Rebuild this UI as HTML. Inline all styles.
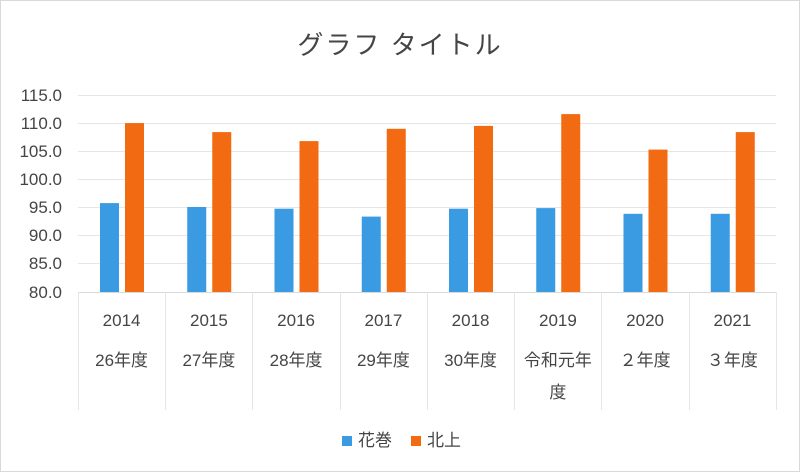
<!DOCTYPE html>
<html><head><meta charset="utf-8"><style>
body{margin:0;background:#fff}
svg{display:block}
text{font-family:"Liberation Sans","Noto Sans CJK JP",sans-serif;fill:#454545}
</style></head><body>
<svg width="800" height="472" viewBox="0 0 800 472">
<rect x="0.5" y="0.5" width="799" height="471" fill="#fff" stroke="#d9d9d9"/>
<text x="400" y="54" font-size="26" text-anchor="middle" letter-spacing="2">グラフ タイトル</text>
<g stroke="#e6e6e6" stroke-width="1">
<line x1="78" x2="776" y1="95.5" y2="95.5"/>
<line x1="78" x2="776" y1="123.5" y2="123.5"/>
<line x1="78" x2="776" y1="151.5" y2="151.5"/>
<line x1="78" x2="776" y1="179.5" y2="179.5"/>
<line x1="78" x2="776" y1="207.5" y2="207.5"/>
<line x1="78" x2="776" y1="235.5" y2="235.5"/>
<line x1="78" x2="776" y1="263.5" y2="263.5"/>
<line x1="78" x2="776" y1="292.5" y2="292.5" stroke="#d9d9d9"/>
<line x1="78.5" x2="78.5" y1="292" y2="410"/>
<line x1="165.5" x2="165.5" y1="292" y2="410"/>
<line x1="252.5" x2="252.5" y1="292" y2="410"/>
<line x1="340.5" x2="340.5" y1="292" y2="410"/>
<line x1="427.5" x2="427.5" y1="292" y2="410"/>
<line x1="514.5" x2="514.5" y1="292" y2="410"/>
<line x1="601.5" x2="601.5" y1="292" y2="410"/>
<line x1="689.5" x2="689.5" y1="292" y2="410"/>
<line x1="776.5" x2="776.5" y1="292" y2="410"/>
</g>
<g font-size="17" text-anchor="end">
<text x="62" y="101">115.0</text>
<text x="62" y="129">110.0</text>
<text x="62" y="157">105.0</text>
<text x="62" y="185">100.0</text>
<text x="62" y="213">95.0</text>
<text x="62" y="241">90.0</text>
<text x="62" y="269">85.0</text>
<text x="62" y="298">80.0</text>
</g>
<g fill="#3a9be3">
<rect x="100" y="203.1" width="19" height="88.9"/>
<rect x="187.25" y="207" width="19" height="85"/>
<rect x="274.5" y="208.7" width="19" height="83.3"/>
<rect x="361.75" y="216.6" width="19" height="75.4"/>
<rect x="449" y="208.7" width="19" height="83.3"/>
<rect x="536.25" y="208.1" width="19" height="83.9"/>
<rect x="623.5" y="213.8" width="19" height="78.2"/>
<rect x="710.75" y="213.8" width="19" height="78.2"/>
</g>
<g fill="#f26a12">
<rect x="125" y="123.1" width="19" height="168.9"/>
<rect x="212.25" y="132.1" width="19" height="159.9"/>
<rect x="299.5" y="141.1" width="19" height="150.9"/>
<rect x="386.75" y="128.8" width="19" height="163.2"/>
<rect x="474" y="125.9" width="19" height="166.1"/>
<rect x="561.25" y="114.1" width="19" height="177.9"/>
<rect x="648.5" y="149.6" width="19" height="142.4"/>
<rect x="735.75" y="132.1" width="19" height="159.9"/>
</g>
<g font-size="17" text-anchor="middle">
<text x="121.6" y="326">2014</text>
<text x="208.9" y="326">2015</text>
<text x="296.1" y="326">2016</text>
<text x="383.4" y="326">2017</text>
<text x="470.6" y="326">2018</text>
<text x="557.9" y="326">2019</text>
<text x="645.1" y="326">2020</text>
<text x="732.4" y="326">2021</text>
<text x="121.6" y="366">26年度</text>
<text x="208.9" y="366">27年度</text>
<text x="296.1" y="366">28年度</text>
<text x="383.4" y="366">29年度</text>
<text x="470.6" y="366">30年度</text>
<text x="557.9" y="366">令和元年</text>
<text x="557.9" y="398">度</text>
<text x="645.1" y="366">２年度</text>
<text x="732.4" y="366">３年度</text>
</g>
<rect x="342" y="436" width="10" height="10" fill="#3a9be3"/>
<text x="358" y="446" font-size="17">花巻</text>
<rect x="411" y="436" width="10" height="10" fill="#f26a12"/>
<text x="427" y="446" font-size="17">北上</text>
</svg>
</body></html>
